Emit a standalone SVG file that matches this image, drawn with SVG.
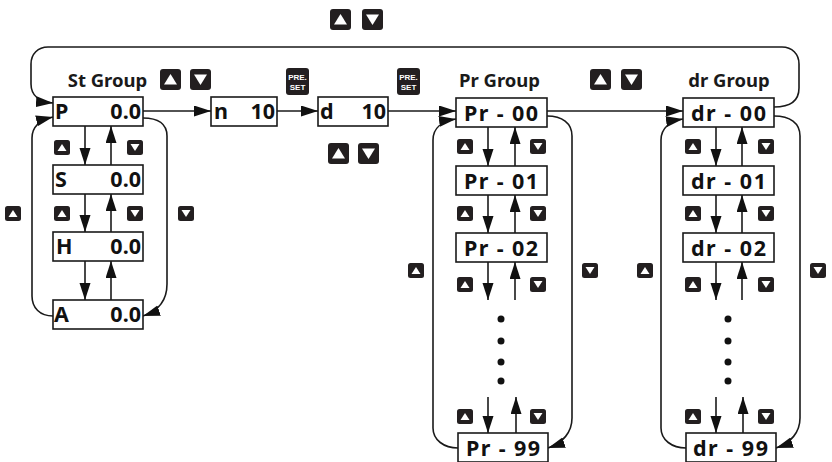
<svg xmlns="http://www.w3.org/2000/svg" width="832" height="462" viewBox="0 0 832 462">
<style>
.bx{fill:#fff;stroke:#1a1a1a;stroke-width:1.6}
.ln{fill:none;stroke:#1a1a1a;stroke-width:1.6}
.t{font-family:"Noto Sans","Open Sans","DejaVu Sans",sans-serif;font-weight:bold;font-size:21.5px;fill:#111}
.g{font-family:"Noto Sans","Open Sans","DejaVu Sans",sans-serif;font-weight:bold;font-size:18.5px;fill:#1a1a1a}
.ps{font-family:"Liberation Sans","DejaVu Sans",sans-serif;font-weight:bold;font-size:8px;fill:#fff}
.btn{fill:#231f20}
.tri{fill:#fff}
.dot{fill:#111}
</style>
<defs>
<marker id="ah" markerUnits="userSpaceOnUse" markerWidth="18" markerHeight="12" refX="17" refY="5.5" orient="auto">
<path d="M0,0 L17,5.5 L0,11 z" fill="#111"/>
</marker>
<g id="bu"><rect class="btn" x="0" y="0" width="21" height="21" rx="3"/><path class="tri" d="M4,15.5 L17,15.5 L10.5,5 z"/></g>
<g id="bd"><rect class="btn" x="0" y="0" width="21" height="21" rx="3"/><path class="tri" d="M4,5.5 L17,5.5 L10.5,16 z"/></g>
<g id="su"><rect class="btn" x="0" y="0" width="16" height="15" rx="2.5"/><path class="tri" d="M3.5,11 L12.5,11 L8,4 z"/></g>
<g id="sd"><rect class="btn" x="0" y="0" width="16" height="15" rx="2.5"/><path class="tri" d="M3.5,4 L12.5,4 L8,11 z"/></g>
<g id="pre"><rect class="btn" x="0" y="0" width="23" height="27" rx="3"/><text class="ps" x="11.5" y="12" text-anchor="middle">PRE.</text><text class="ps" x="11.5" y="22" text-anchor="middle">SET</text></g>
</defs>

<g id="connectors">
<path class="ln" marker-end="url(#ah)" d="M774,107 C792,107 799,100 799,88 L799,64 C799,54 792,47 782,47 L48,47 C38,47 31,54 31,64 L31,84 C31,96 40,102 53,103"/>
<path class="ln" marker-end="url(#ah)" d="M143,111 L211,111"/>
<path class="ln" marker-end="url(#ah)" d="M277,111 L318,111"/>
<path class="ln" marker-end="url(#ah)" d="M388,111 L456,111"/>
<path class="ln" marker-end="url(#ah)" d="M547,111 L683,111"/>
<path class="ln" marker-end="url(#ah)" d="M53,316 C40,316 32,308 32,296 L32,138 C32,127 40,120 53,117"/>
<path class="ln" marker-end="url(#ah)" d="M143,118 C158,118 167,124 167,136 L167,284 C167,300 158,311 143,316"/>
<path class="ln" marker-end="url(#ah)" d="M85,126 L85,165"/>
<path class="ln" marker-end="url(#ah)" d="M111,165 L111,126"/>
<path class="ln" marker-end="url(#ah)" d="M85,194 L85,232"/>
<path class="ln" marker-end="url(#ah)" d="M111,232 L111,194"/>
<path class="ln" marker-end="url(#ah)" d="M85,261 L85,300"/>
<path class="ln" marker-end="url(#ah)" d="M111,300 L111,261"/>
<path class="ln" marker-end="url(#ah)" d="M458,448 C444,448 433,440 433,428 L433,140 C433,128 442,121 456,119"/>
<path class="ln" marker-end="url(#ah)" d="M547,116 C562,116 572,123 572,136 L572,418 C572,432 563,443 548,448"/>
<path class="ln" marker-end="url(#ah)" d="M488,127 L488,166"/>
<path class="ln" marker-end="url(#ah)" d="M515,166 L515,127"/>
<path class="ln" marker-end="url(#ah)" d="M488,195 L488,233"/>
<path class="ln" marker-end="url(#ah)" d="M515,233 L515,195"/>
<path class="ln" marker-end="url(#ah)" d="M488,262 L488,300"/>
<path class="ln" marker-end="url(#ah)" d="M515,300 L515,262"/>
<path class="ln" marker-end="url(#ah)" d="M488,397 L488,433"/>
<path class="ln" marker-end="url(#ah)" d="M516,433 L516,397"/>
<path class="ln" marker-end="url(#ah)" d="M686,448 C672,448 661,440 661,428 L661,140 C661,128 670,121 683,119"/>
<path class="ln" marker-end="url(#ah)" d="M774,116 C790,116 800,123 800,136 L800,418 C800,432 791,443 776,448"/>
<path class="ln" marker-end="url(#ah)" d="M716,127 L716,166"/>
<path class="ln" marker-end="url(#ah)" d="M742,166 L742,127"/>
<path class="ln" marker-end="url(#ah)" d="M716,195 L716,233"/>
<path class="ln" marker-end="url(#ah)" d="M742,233 L742,195"/>
<path class="ln" marker-end="url(#ah)" d="M716,262 L716,300"/>
<path class="ln" marker-end="url(#ah)" d="M742,300 L742,262"/>
<path class="ln" marker-end="url(#ah)" d="M716,397 L716,433"/>
<path class="ln" marker-end="url(#ah)" d="M743,433 L743,397"/>
</g>

<g id="labels">
<text class="g" x="107.5" y="87" text-anchor="middle">St Group</text>
<text class="g" x="499.5" y="87" text-anchor="middle">Pr Group</text>
<text class="g" x="729" y="87" text-anchor="middle">dr Group</text>
</g>

<g id="buttons">
<use href="#bu" x="330" y="9"/><use href="#bd" x="362" y="9"/>
<use href="#bu" x="160" y="69"/><use href="#bd" x="190" y="69"/>
<use href="#pre" x="286" y="68"/><use href="#pre" x="397" y="68"/>
<use href="#bu" x="328" y="143"/><use href="#bd" x="358" y="143"/>
<use href="#bu" x="590" y="69"/><use href="#bd" x="621" y="69"/>
<use href="#su" x="54" y="140"/><use href="#sd" x="127" y="140"/>
<use href="#su" x="54" y="206"/><use href="#sd" x="127" y="206"/>
<use href="#su" x="5" y="206"/><use href="#sd" x="178" y="206"/>
<use href="#su" x="457" y="139"/><use href="#sd" x="530" y="139"/>
<use href="#su" x="457" y="206"/><use href="#sd" x="530" y="206"/>
<use href="#su" x="457" y="277"/><use href="#sd" x="530" y="277"/>
<use href="#su" x="457" y="409"/><use href="#sd" x="530" y="409"/>
<use href="#su" x="408" y="263"/><use href="#sd" x="582" y="263"/>
<use href="#su" x="685" y="139"/><use href="#sd" x="758" y="139"/>
<use href="#su" x="685" y="206"/><use href="#sd" x="758" y="206"/>
<use href="#su" x="685" y="277"/><use href="#sd" x="758" y="277"/>
<use href="#su" x="685" y="409"/><use href="#sd" x="758" y="409"/>
<use href="#su" x="637" y="263"/><use href="#sd" x="810" y="263"/>
</g>

<g id="dots">
<circle class="dot" cx="501" cy="319" r="3.5"/><circle class="dot" cx="501" cy="341" r="3.5"/><circle class="dot" cx="501" cy="362" r="3.5"/><circle class="dot" cx="501" cy="381" r="3.5"/>
<circle class="dot" cx="728" cy="319" r="3.5"/><circle class="dot" cx="728" cy="341" r="3.5"/><circle class="dot" cx="728" cy="362" r="3.5"/><circle class="dot" cx="728" cy="381" r="3.5"/>
</g>

<g id="node-P"><rect class="bx" x="53" y="97" width="90" height="29"/><text class="t" x="55" y="119">P</text><text class="t" x="141" y="119" text-anchor="end">0.0</text></g>
<g id="node-S"><rect class="bx" x="53" y="165" width="90" height="29"/><text class="t" x="55" y="187">S</text><text class="t" x="141" y="187" text-anchor="end">0.0</text></g>
<g id="node-H"><rect class="bx" x="53" y="232" width="90" height="29"/><text class="t" x="56" y="254">H</text><text class="t" x="141" y="254" text-anchor="end">0.0</text></g>
<g id="node-A"><rect class="bx" x="53" y="300" width="90" height="29"/><text class="t" x="54" y="322">A</text><text class="t" x="141" y="322" text-anchor="end">0.0</text></g>
<g id="node-n"><rect class="bx" x="211" y="97" width="66" height="29"/><text class="t" x="214" y="119">n</text><text class="t" x="275" y="119" text-anchor="end">10</text></g>
<g id="node-d"><rect class="bx" x="318" y="97" width="70" height="29"/><text class="t" x="320" y="119">d</text><text class="t" x="386" y="119" text-anchor="end">10</text></g>

<g id="node-Pr00"><rect class="bx" x="456" y="98" width="91" height="29"/><text class="t" x="464" y="121" textLength="74" lengthAdjust="spacing">Pr - 00</text></g>
<g id="node-Pr01"><rect class="bx" x="456" y="166" width="91" height="29"/><text class="t" x="464" y="189" textLength="74" lengthAdjust="spacing">Pr - 01</text></g>
<g id="node-Pr02"><rect class="bx" x="456" y="233" width="91" height="29"/><text class="t" x="464" y="256" textLength="74" lengthAdjust="spacing">Pr - 02</text></g>
<g id="node-Pr99"><rect class="bx" x="458" y="433" width="90" height="29"/><text class="t" x="466" y="456" textLength="74" lengthAdjust="spacing">Pr - 99</text></g>

<g id="node-dr00"><rect class="bx" x="683" y="98" width="91" height="29"/><text class="t" x="691" y="121" textLength="75" lengthAdjust="spacing">dr - 00</text></g>
<g id="node-dr01"><rect class="bx" x="683" y="166" width="91" height="29"/><text class="t" x="691" y="189" textLength="75" lengthAdjust="spacing">dr - 01</text></g>
<g id="node-dr02"><rect class="bx" x="683" y="233" width="91" height="29"/><text class="t" x="691" y="256" textLength="75" lengthAdjust="spacing">dr - 02</text></g>
<g id="node-dr99"><rect class="bx" x="686" y="433" width="90" height="29"/><text class="t" x="693" y="456" textLength="75" lengthAdjust="spacing">dr - 99</text></g>
</svg>
